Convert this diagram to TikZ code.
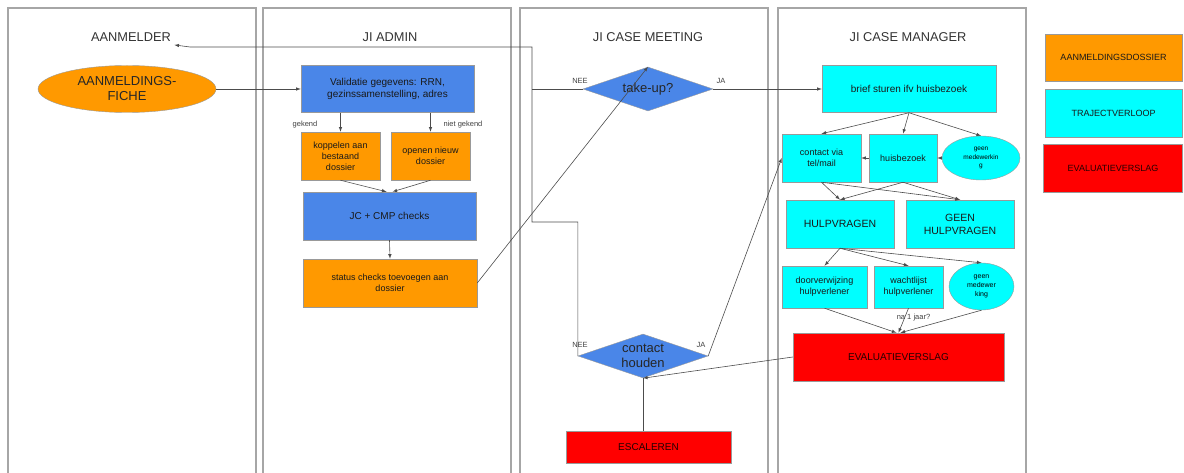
\documentclass[tikz,border=0pt]{standalone}
\usepackage{fontspec}
\setmainfont{Liberation Sans}
\usetikzlibrary{shapes.geometric}
\definecolor{orangebox}{HTML}{FF9900}
\definecolor{bluebox}{HTML}{4A86E8}
\definecolor{cyanbox}{HTML}{00FFFF}
\definecolor{redbox}{HTML}{FF0000}

\begin{document}
\begin{tikzpicture}[x=1pt, y=-1pt, >=latex,
    lane/.style={draw=gray!70, line width=1.2pt},
    lanetitle/.style={text=black!80, font=\fontsize{12.8}{14}\selectfont},
    box/.style={draw=black!40, line width=0.5pt, align=center, inner sep=1pt, text=black!90, font=\fontsize{9}{11}\selectfont},
    dossier/.style={box, fill=orangebox},
    admin/.style={box, fill=bluebox},
    traject/.style={box, fill=cyanbox},
    verslag/.style={box, fill=redbox, text=black!85!red, font=\fontsize{10}{12}\selectfont},
    beslis/.style={diamond, aspect=3, inner sep=0pt, draw=black!40, fill=bluebox, align=center, text=black!85, font=\fontsize{13}{15.5}\selectfont},
    flow/.style={->, draw=black!70, line width=0.6pt},
    lbl/.style={font=\fontsize{7.5}{9}\selectfont, text=black!75, inner sep=0pt},
]
    \useasboundingbox (0,0) rectangle (1184,473);
    \clip (0,0) rectangle (1184,473);
    % swimlanes
    \foreach \xl/\xr in {8/256, 263/511, 520/768, 778/1026}
        \draw[lane] (\xl,8) rectangle (\xr,480);
    \node[lanetitle] (t-aanmelder) at (131,37) {AANMELDER};
    \node[lanetitle] (t-admin) at (390,37) {JI ADMIN};
    \node[lanetitle] (t-meeting) at (648,37) {JI CASE MEETING};
    \node[lanetitle] (t-manager) at (908,37) {JI CASE MANAGER};

    % aanmelder + admin
    \node[ellipse, draw=black!40, fill=orangebox, minimum width=178, minimum height=47, inner sep=0pt, align=center, text=black!85, font=\fontsize{13}{15}\selectfont] (fiche) at (127,89) {AANMELDINGS-\\FICHE};
    \node[admin, minimum width=173, minimum height=47, font=\fontsize{10}{12.5}\selectfont] (validatie) at (387.5,89) {Validatie gegevens: RRN,\\gezinssamenstelling, adres};
    \node[dossier, minimum width=79, minimum height=48] (koppelen) at (340.5,156) {koppelen aan\\bestaand\\dossier};
    \node[dossier, minimum width=79, minimum height=48] (openen) at (430.5,156) {openen nieuw\\dossier};
    \node[admin, minimum width=173, minimum height=48, font=\fontsize{10}{12}\selectfont] (checks) at (389.5,216) {JC + CMP checks};
    \node[dossier, minimum width=174, minimum height=48] (status) at (390,283) {status checks toevoegen aan\\dossier};
    \node[lbl] (l-gekend) at (305,125) {gekend};
    \node[lbl] (l-nietgekend) at (463,125) {niet gekend};

    % case meeting
    \node[beslis, minimum width=130, minimum height=44] (takeup) at (648,89) {take-up?};
    \node[beslis, minimum width=130, minimum height=44] (houden) at (643,356) {contact\\houden};
    \node[verslag, minimum width=165, minimum height=32] (escaleren) at (648.5,447) {ESCALEREN};
    \node[lbl] (l-nee1) at (580,81) {NEE};
    \node[lbl] (l-ja1) at (721,81) {JA};
    \node[lbl] (l-nee2) at (580,345) {NEE};
    \node[lbl] (l-ja2) at (701,345) {JA};
    \coordinate (bendtop) at (532,47);
    \coordinate (bendlow) at (532,222);
    \coordinate (kink) at (190,47);

    % case manager
    \node[traject, minimum width=174, minimum height=47, font=\fontsize{10}{12}\selectfont] (brief) at (909,89) {brief sturen ifv huisbezoek};
    \node[traject, minimum width=79, minimum height=48] (contactmail) at (821.5,158) {contact via\\tel/mail};
    \node[traject, minimum width=68, minimum height=48] (huisbezoek) at (903,158) {huisbezoek};
    \node[ellipse, draw=black!40, fill=cyanbox, minimum width=78, minimum height=44, inner sep=0pt, align=center, font=\fontsize{6.5}{8.5}\selectfont] (geenmw1) at (981,158) {geen\\medewerkin\\g};
    \node[traject, minimum width=108, minimum height=48, font=\fontsize{10.5}{13}\selectfont] (hulpvragen) at (840,224) {HULPVRAGEN};
    \node[traject, minimum width=108, minimum height=48, font=\fontsize{10.5}{13}\selectfont] (geenhulp) at (960,224) {GEEN\\HULPVRAGEN};
    \node[traject, minimum width=85, minimum height=42] (doorverw) at (824.5,287) {doorverwijzing\\hulpverlener};
    \node[traject, minimum width=69, minimum height=42] (wachtlijst) at (908.5,287) {wachtlijst\\hulpverlener};
    \node[ellipse, draw=black!40, fill=cyanbox, minimum width=65, minimum height=47, inner sep=0pt, align=center, font=\fontsize{7}{9}\selectfont] (geenmw2) at (981.5,286.5) {geen\\medewer\\king};
    \node[verslag, minimum width=211, minimum height=48] (evalverslag) at (898.5,357) {EVALUATIEVERSLAG};

    % legend
    \node[dossier, minimum width=137, minimum height=47] (lg-dossier) at (1113.5,57.5) {AANMELDINGSDOSSIER};
    \node[traject, minimum width=137, minimum height=48] (lg-traject) at (1113.5,113) {TRAJECTVERLOOP};
    \node[verslag, minimum width=139, minimum height=48, font=\fontsize{9}{11}\selectfont] (lg-eval) at (1113,168) {EVALUATIEVERSLAG};

    % connectors
    \draw[flow] (fiche.east) -- (validatie.west);
    \draw[flow] (validatie.south -| koppelen.north) -- (koppelen.north);
    \draw[flow] (validatie.south -| openen.north) -- (openen.north);
    \draw[flow] (koppelen.south) -- ([xshift=-3]checks.north);
    \draw[flow] (openen.south) -- ([xshift=3]checks.north);
    \draw[flow] (checks.south) -- (status.north);
    \draw[flow] (status.east) -- (takeup.north);
    \draw[flow] (takeup.east) -- (brief.west);
    \draw[draw=black!70, line width=0.6pt] (takeup.west) -- (takeup.west -| bendtop);
    \draw[flow] (houden.west) |- (bendlow) -- (bendtop) -- (kink) -- (t-aanmelder.south east);
    \draw[flow] (houden.east) -- (contactmail.west);
    \draw[draw=black!70, line width=0.6pt] (escaleren.north -| houden.south) -- (houden.south);
    \draw[flow] (evalverslag.west) -- (houden.south);
    \foreach \n in {contactmail, huisbezoek, geenmw1}
        \draw[flow] (brief.south) -- (\n.north);
    \draw[flow] (huisbezoek.west) -- (contactmail.east);
    \draw[flow] (geenmw1.west) -- (huisbezoek.east);
    \foreach \a in {contactmail, huisbezoek}
        \foreach \b in {hulpvragen, geenhulp}
            \draw[flow] (\a.south) -- (\b.north);
    \foreach \n in {doorverw, wachtlijst, geenmw2}
        \draw[flow] (hulpvragen.south) -- (\n.north);
    \draw[flow] (doorverw.south) -- ([xshift=-2]evalverslag.north);
    \draw[flow] (wachtlijst.south) -- (evalverslag.north) node[lbl, pos=0.4, xshift=9pt] {na 1 jaar?};
    \draw[flow] (geenmw2.south) -- ([xshift=2]evalverslag.north);
\end{tikzpicture}
\end{document}
